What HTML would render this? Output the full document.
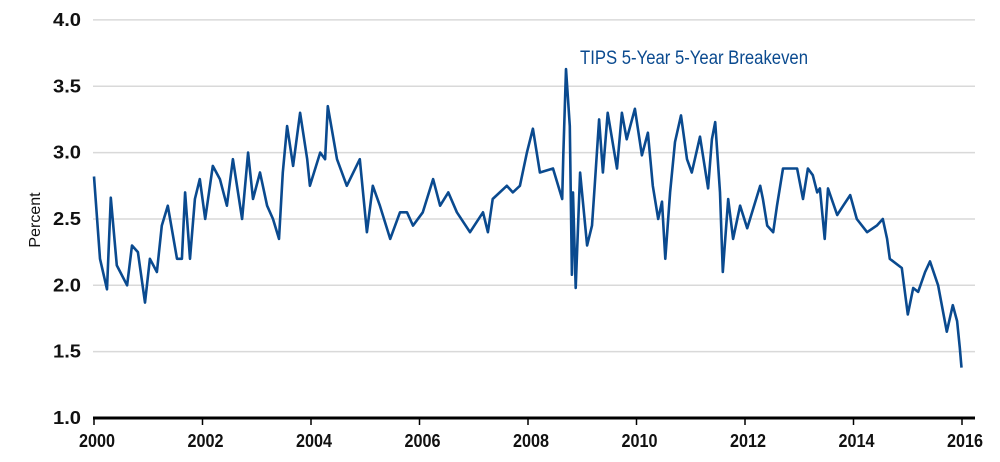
<!DOCTYPE html>
<html><head><meta charset="utf-8"><style>
body{margin:0;background:#fff;}
svg{display:block;font-family:"Liberation Sans",sans-serif;}
</style></head><body>
<svg id="chart" width="1000" height="462" viewBox="0 0 1000 462">
<g id="grid"></g>
<g id="yaxis"></g>
<g id="xaxis"></g>
<text transform="translate(40,220) rotate(-90)" text-anchor="middle" font-size="16" fill="#111">Percent</text>
<text x="580" y="64" font-size="19" fill="#0a4a8f" textLength="228" lengthAdjust="spacingAndGlyphs">TIPS 5-Year 5-Year Breakeven</text>
<g id="plot"></g>
</svg>
<script>
const years=[0.0,0.11,0.24,0.31,0.42,0.61,0.70,0.81,0.94,1.03,1.16,1.25,1.36,1.53,1.62,1.68,1.77,1.86,1.95,2.05,2.19,2.32,2.45,2.56,2.73,2.84,2.93,3.06,3.19,3.30,3.41,3.48,3.56,3.67,3.80,3.93,3.98,4.17,4.26,4.31,4.48,4.66,4.90,5.03,5.14,5.27,5.46,5.64,5.77,5.88,6.06,6.25,6.38,6.53,6.69,6.93,7.17,7.26,7.35,7.61,7.72,
7.85,7.98,8.09,8.22,8.46,8.63,8.65,8.70,8.77,8.81,8.83,8.88,8.96,9.09,9.18,9.23,9.31,9.38,9.47,9.64,9.73,9.82,9.97,10.10,10.21,10.30,10.40,10.47,10.53,10.62,10.71,10.82,10.93,11.02,11.17,11.32,11.39,11.45,11.54,11.59,11.69,11.78,11.91,12.04,12.28,12.33,12.41,12.52,12.59,12.70,12.96,13.07,13.16,13.25,13.33,13.38,13.47,13.53,13.70,13.81,13.94,14.06,14.25,14.43,14.54,14.62,14.67,14.89,15.00,15.10,15.19,15.32,15.41,15.56,15.72,15.83,15.91,15.96,15.99];
const values=[2.82,2.2,1.97,2.66,2.15,2.0,2.3,2.25,1.87,2.2,2.1,2.45,2.6,2.2,2.2,2.7,2.2,2.65,2.8,2.5,2.9,2.8,2.6,2.95,2.5,3.0,2.65,2.85,2.6,2.5,2.35,2.85,3.2,2.9,3.3,2.95,2.75,3.0,2.95,3.35,2.95,2.75,2.95,2.4,2.75,2.6,2.35,2.55,2.55,2.45,2.55,2.8,2.6,2.7,2.55,2.4,2.55,2.4,2.65,2.75,2.7,
2.75,3.0,3.18,2.85,2.88,2.65,2.98,3.63,3.2,2.08,2.7,1.98,2.85,2.3,2.45,2.75,3.25,2.85,3.3,2.88,3.3,3.1,3.33,2.98,3.15,2.75,2.5,2.63,2.2,2.7,3.08,3.28,2.95,2.85,3.12,2.73,3.1,3.23,2.7,2.1,2.65,2.35,2.6,2.43,2.75,2.65,2.45,2.4,2.6,2.88,2.88,2.65,2.88,2.83,2.7,2.73,2.35,2.73,2.53,2.6,2.68,2.5,2.4,2.45,2.5,2.35,2.2,2.13,1.78,1.98,1.95,2.1,2.18,2.0,1.65,1.85,1.73,1.53,1.38];
const yTicks=[1.0,1.5,2.0,2.5,3.0,3.5,4.0];
const yTickLabels=["1.0","1.5","2.0","2.5","3.0","3.5","4.0"];
const xTicks=[0,2,4,6,8,10,12,14,16];
const xTickLabels=["2000","2002","2004","2006","2008","2010","2012","2014","2016"];
const X0=94,XS=54.25,Y0=418,YS=132.7;
const xs=t=>X0+t*XS, ys=v=>Y0-(v-1)*YS;
const NS="http://www.w3.org/2000/svg";
const mk=(p,tag,a)=>{const e=document.createElementNS(NS,tag);for(const k in a)e.setAttribute(k,a[k]);p.appendChild(e);return e;};
const grid=document.getElementById('grid'),ya=document.getElementById('yaxis'),xa=document.getElementById('xaxis'),plot=document.getElementById('plot');
yTicks.forEach((v,i)=>{
 if(v>1){const g=mk(grid,'line',{x1:93,x2:975,y1:ys(v),y2:ys(v),stroke:'#d9d9d9','stroke-width':1.5});
 
 }
 const t=mk(ya,'text',{x:81,y:ys(v)+6,'text-anchor':'end','font-size':18,fill:'#111','font-weight':'bold',textLength:28,lengthAdjust:'spacingAndGlyphs'});
 
 
 t.textContent=yTickLabels[i];
});
const ax=mk(xa,'line',{x1:93,x2:975,y1:418,y2:418,stroke:'#000','stroke-width':3});


xTicks.forEach((t,i)=>{
 const l=mk(xa,'line',{x1:xs(t),x2:xs(t),y1:418,y2:425,stroke:'#000','stroke-width':1.5});
 
 
 const tx=mk(xa,'text',{x:xs(t)+3,y:447,'text-anchor':'middle','font-size':18,fill:'#111','font-weight':'bold',textLength:36,lengthAdjust:'spacingAndGlyphs'});
 
 
 tx.textContent=xTickLabels[i];
});
const d=years.map((t,i)=>(i?'L':'M')+xs(t).toFixed(1)+','+ys(values[i]).toFixed(1)).join('');
const p=mk(plot,'path',{d:d,fill:'none',stroke:'#0a4a8f','stroke-width':2.6,'stroke-linejoin':'round'});


</script>
</body></html>
